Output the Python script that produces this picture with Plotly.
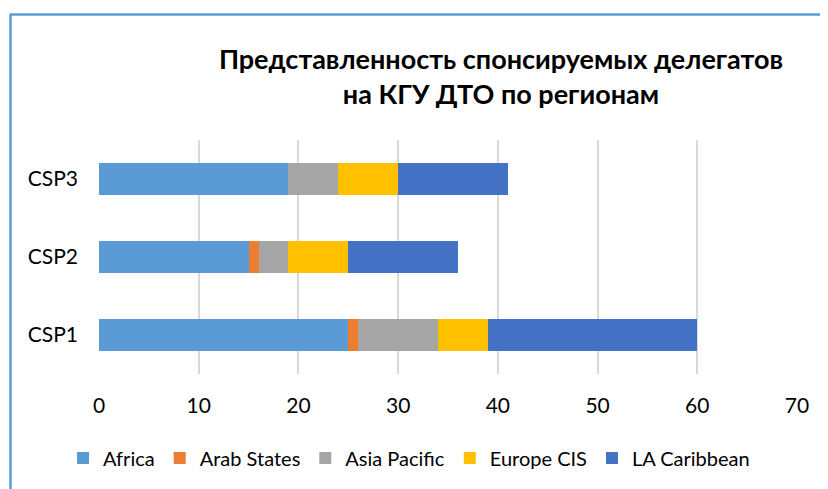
import plotly.graph_objects as go

categories = ["CSP1", "CSP2", "CSP3"]
africa = [25, 15, 19]
arab_states = [1, 1, 0]
asia_pacific = [8, 3, 5]
europe_cis = [5, 6, 6]
la_caribbean = [21, 11, 11]
x_ticks = [0, 10, 20, 30, 40, 50, 60, 70]

series = [
    ("Africa", africa, "#5B9BD5"),
    ("Arab States", arab_states, "#ED7D31"),
    ("Asia Pacific", asia_pacific, "#A5A5A5"),
    ("Europe CIS", europe_cis, "#FFC000"),
    ("LA Caribbean", la_caribbean, "#4472C4"),
]

# page body has an 8px margin, so the figure starts at (8, 8)
OFF = 8
W, H = 828 - OFF, 489 - OFF
L, T = 99 - OFF, 140 - OFF
R = 828 - 797
B = 489 - 374
pw, ph = W - L - R, H - T - B

fig = go.Figure()
for name, vals, col in series:
    fig.add_trace(go.Bar(y=categories, x=vals, name=name, orientation="h",
                         marker=dict(color=col, line=dict(width=0))))

def px_x(p):  # page px -> paper x
    return (p - OFF - L) / pw

def px_y(p):  # page px -> paper y
    return (H - B - (p - OFF)) / ph

font = "Lato, Calibri, sans-serif"
fs = 21
fig.update_layout(
    width=W, height=H, barmode="stack", bargap=0.59,
    margin=dict(l=L, r=R, t=T, b=B, autoexpand=False),
    paper_bgcolor="white", plot_bgcolor="white",
    font=dict(family=font, size=fs, color="#000000"),
    title=dict(text="Представленность спонсируемых делегатов<br>на КГУ ДТО по регионам",
               x=(501 - OFF) / W, xanchor="center",
               y=1 - 61 / H, yanchor="middle",
               font=dict(family=font, size=27, color="#000000", weight="bold")),
    xaxis=dict(range=[0, 70], tickvals=x_ticks, showgrid=True, gridcolor="#D9D9D9",
               gridwidth=1.5, zeroline=False, showline=False, ticks="", automargin=False,
               ticklabelstandoff=17, tickfont=dict(size=fs)),
    yaxis=dict(showgrid=False, zeroline=False, showline=False, ticks="", automargin=False,
               ticklabelstandoff=20, tickfont=dict(size=fs)),
    legend=dict(orientation="h", xref="container", x=(63 - OFF) / W, xanchor="left",
                yref="container", y=(H - (458 - OFF)) / H, yanchor="middle",
                font=dict(size=20), traceorder="normal", itemwidth=30),
    shapes=[
        dict(type="line", xref="paper", yref="paper", x0=px_x(10), x1=px_x(830),
             y0=px_y(14.5), y1=px_y(14.5), line=dict(color="#5B9BD5", width=2.5)),
        dict(type="line", xref="paper", yref="paper", x0=px_x(10.5), x1=px_x(10.5),
             y0=px_y(14), y1=px_y(492), line=dict(color="#5B9BD5", width=2.5)),
    ],
)
fig.write_html("out.html")
